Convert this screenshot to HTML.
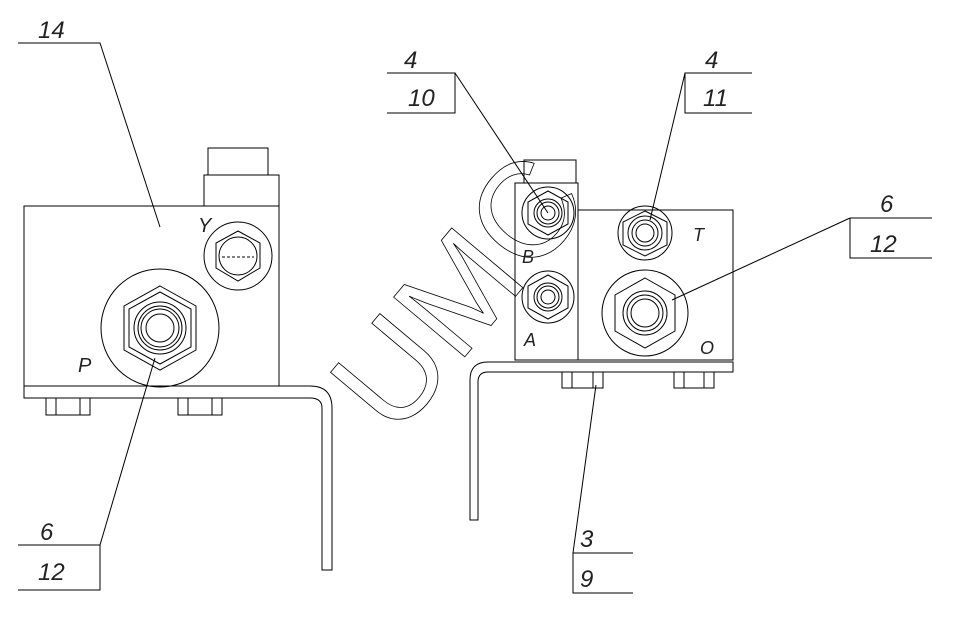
<!DOCTYPE html><html><head><style>body{margin:0;background:#fff}svg{display:block}</style></head><body>
<svg width="968" height="623" viewBox="0 0 968 623" xmlns="http://www.w3.org/2000/svg" font-family="Liberation Sans, sans-serif">
<g fill="none" stroke="#000" stroke-width="1">
<!-- left view -->
<rect x="208" y="148" width="60" height="27"/>
<rect x="204" y="175" width="75" height="31"/>
<rect x="24" y="206" width="255" height="180"/>
<circle cx="238" cy="256" r="34"/>
<polygon points="238,231 260,243 260,268 238,281 216,268 216,243"/>
<circle cx="238" cy="256" r="19"/>
<line x1="222" y1="257" x2="254" y2="257" stroke-dasharray="3,2"/>
<circle cx="160" cy="328" r="59"/>
<polygon points="160,286 196,306 196,350 160,370 124,350 124,306"/>
<polygon points="160,292 191,309 191,347 160,364 129,347 129,309"/>
<circle cx="160" cy="328" r="26"/><circle cx="160" cy="328" r="22"/><circle cx="160" cy="328" r="19"/><circle cx="160" cy="328" r="14"/>
<path d="M24 386 H310 Q332 386 332 408 V570 H322 V408 Q322 398 310 398 H24 Z"/>
<rect x="46" y="398" width="44" height="17"/><line x1="56" y1="398" x2="56" y2="415"/><line x1="80" y1="398" x2="80" y2="415"/>
<rect x="178" y="398" width="44" height="17"/><line x1="188" y1="398" x2="188" y2="415"/><line x1="212" y1="398" x2="212" y2="415"/>
<path d="M18 43 H100 L160 227"/>
<path d="M18 545 H100 V590 H18 M100 545 L155 358"/>
<!-- right view -->
<rect x="524" y="160" width="52" height="23"/>
<rect x="515" y="183" width="63" height="177"/>
<rect x="578" y="210" width="155" height="150"/>
<circle cx="548" cy="213" r="26"/>
<polygon points="548,191 568,202 568,224 548,235 528,224 528,202"/>
<circle cx="548" cy="213" r="14"/><circle cx="548" cy="213" r="11"/><circle cx="548" cy="213" r="7"/>
<circle cx="548" cy="297" r="26"/>
<polygon points="548,275 568,286 568,308 548,319 528,308 528,286"/>
<circle cx="548" cy="297" r="14"/><circle cx="548" cy="297" r="11"/><circle cx="548" cy="297" r="7"/>
<circle cx="645" cy="233" r="27"/>
<polygon points="645,211 667,222 667,245 645,256 623,245 623,222"/>
<circle cx="645" cy="233" r="17"/><circle cx="645" cy="233" r="13"/><circle cx="645" cy="233" r="9"/>
<circle cx="645" cy="313" r="43"/>
<polygon points="645,278 675,295 675,331 645,348 615,331 615,295"/>
<circle cx="645" cy="313" r="22"/><circle cx="645" cy="313" r="18"/><circle cx="645" cy="313" r="14"/>
<path d="M733 362 H488 Q470 362 470 380 V520 H478 V382 Q478 372 488 372 H733 Z"/>
<rect x="562" y="372" width="41" height="16"/><line x1="572" y1="372" x2="572" y2="388"/><line x1="593" y1="372" x2="593" y2="388"/>
<rect x="674" y="372" width="40" height="16"/><line x1="684" y1="372" x2="684" y2="388"/><line x1="704" y1="372" x2="704" y2="388"/>
<path d="M387 73 H455 V113 H387 M455 73 L548 213"/>
<path d="M752 73 H685 V113 H752 M685 73 L650 220"/>
<path d="M932 218 H850 V258 H932 M850 218 L672 300"/>
<path d="M633 553 H573 V593 H633 M573 553 L596 385"/>
<text transform="translate(395,440) rotate(-50)" x="0" y="0" font-size="135" stroke-width="0.8" font-family="Liberation Sans, sans-serif">UMC</text>
</g>
<g font-size="24" fill="#222" font-style="italic" font-family="Liberation Sans, sans-serif">
<text x="38" y="38">14</text>
<text x="40" y="540">6</text><text x="38" y="580">12</text>
<text x="404" y="68">4</text><text x="408" y="106">10</text>
<text x="705" y="68">4</text><text x="703" y="106">11</text>
<text x="880" y="212">6</text><text x="870" y="252">12</text>
<text x="580" y="547">3</text><text x="580" y="587">9</text>
<text x="78" y="372" font-size="20">P</text>
<text x="198" y="232" font-size="20">Y</text>
<text x="522" y="263" font-size="18">B</text>
<text x="524" y="346" font-size="18">A</text>
<text x="693" y="241" font-size="18">T</text>
<text x="700" y="354" font-size="18">O</text>
</g>
</svg></body></html>
